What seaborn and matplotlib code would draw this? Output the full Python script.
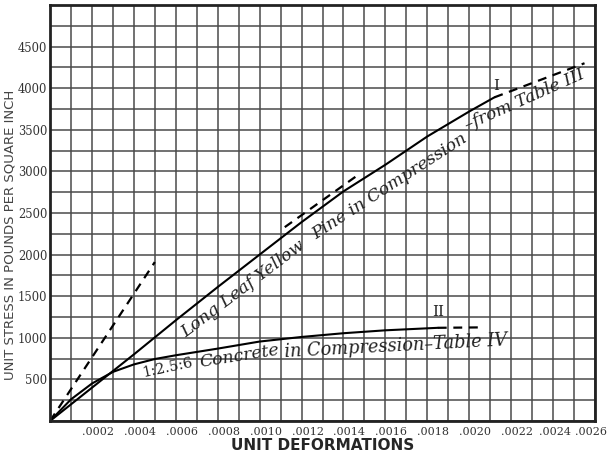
import numpy as np
import pandas as pd
import seaborn as sns
import matplotlib.pyplot as plt
import matplotlib.transforms as mtransforms
from matplotlib.ticker import MultipleLocator, FixedLocator, FuncFormatter

# curve I: long leaf yellow pine
pine_strain = [0, .0002, .0004, .0006, .0008, .0010, .0012, .0014, .0016, .0018, .0020, .00212]
pine_stress = [0, 400, 800, 1210, 1610, 2000, 2390, 2760, 3080, 3420, 3720, 3890]
pine_ext_strain = [.00212, .00255]
pine_ext_stress = [3890, 4300]
pine_tan_strain = [.00112, .00146]
pine_tan_stress = [2330, 2940]

# curve II: 1:2.5:6 concrete
conc_strain = [0, .0001, .0002, .0003, .0004, .0005, .0006, .0008, .0010, .0012, .0014, .0016, .00185]
conc_stress = [0, 260, 450, 590, 680, 745, 790, 870, 955, 1010, 1055, 1090, 1120]
conc_ext_strain = [.00185, .00205]
conc_ext_stress = [1120, 1125]

# initial tangent (dashed)
tan_strain = [0, .0005]
tan_stress = [0, 1910]

x_ticks = [.0002, .0004, .0006, .0008, .0010, .0012, .0014, .0016, .0018, .0020, .0022, .0024, .0026]
y_ticks = [500, 1000, 1500, 2000, 2500, 3000, 3500, 4000, 4500]

sns.set_style("white")
plt.rcParams['font.family'] = ['DejaVu Sans']

fig = plt.figure(figsize=(6.10, 4.58), dpi=100)
ax = fig.add_axes([50 / 610, 37 / 458, 545 / 610, 416 / 458])

pine = pd.DataFrame({'strain': pine_strain, 'stress': pine_stress})
conc = pd.DataFrame({'strain': conc_strain, 'stress': conc_stress})

sns.lineplot(data=pine, x='strain', y='stress', color='black', lw=1.5, ax=ax)
sns.lineplot(data=conc, x='strain', y='stress', color='black', lw=1.5, ax=ax)
for xs, ys in [(pine_ext_strain, pine_ext_stress), (pine_tan_strain, pine_tan_stress),
               (conc_ext_strain, conc_ext_stress), (tan_strain, tan_stress)]:
    sns.lineplot(x=xs, y=ys, color='black', lw=1.6, ax=ax, linestyle=(0, (4, 3)))

ax.set_xlim(0, .0026)
ax.set_ylim(0, 5000)

# grid
ax.xaxis.set_major_locator(FixedLocator(x_ticks))
ax.xaxis.set_minor_locator(MultipleLocator(.0001))
ax.yaxis.set_major_locator(FixedLocator(y_ticks))
ax.yaxis.set_minor_locator(MultipleLocator(250))
ax.xaxis.set_major_formatter(FuncFormatter(lambda v, p: ('%.4f' % v)[1:]))
ax.grid(True, which='both', color='#4a4a4a', lw=1.1)
ax.set_axisbelow(True)
ax.tick_params(which='both', length=0)
ax.tick_params(axis='x', pad=4)
ax.tick_params(axis='y', pad=2)
xlabs = ax.get_xticklabels()
n = len(xlabs)
for i, lab in enumerate(xlabs):
    # shifted right like the scan, last two pulled in so they fit
    dx = 6 if i < n - 2 else (2 if i == n - 2 else -4)
    lab.set_transform(lab.get_transform() + mtransforms.ScaledTranslation(dx / 100, 0, fig.dpi_scale_trans))
    lab.set_fontsize(8)
for lab in ax.get_xticklabels() + ax.get_yticklabels():
    lab.set_fontfamily(['DejaVu Serif'])
    lab.set_color('#333333')
for lab in ax.get_yticklabels():
    lab.set_fontsize(8.3)
for s in ax.spines.values():
    s.set_visible(True)
    s.set_color('#222222')
    s.set_linewidth(2)

ax.set_xlabel("UNIT DEFORMATIONS", fontsize=11, fontweight='bold', labelpad=1)
ax.set_ylabel("UNIT STRESS IN POUNDS PER SQUARE INCH", fontsize=9.5, color='#444444')
ax.yaxis.set_label_coords(-0.061, 0.447)

# labels along the curves (pixel positions)
def px(x, y, s, rot, size=12.5, style='italic'):
    fig.text(x / 610, 1 - y / 458, s, rotation=rot, ha='center', va='center',
             fontsize=size, style=style, family=['DejaVu Serif'], color='#222222',
             rotation_mode='anchor')

px(243, 289, "Long Leaf Yellow", 37)
px(390, 186, "Pine in Compression", 33)
px(525, 100, "\u2013from Table III", 24)
px(168, 368, "1:2.5:6", 12, size=10.5, style='normal')
px(239, 356, "Concrete", 9)
px(396, 346, "in Compression\u2013Table IV", 3, size=12.8)
px(496, 86, "I", 0, size=11, style='normal')
px(438, 312, "II", 0, size=11, style='normal')

fig.savefig("out.png", dpi=100)
